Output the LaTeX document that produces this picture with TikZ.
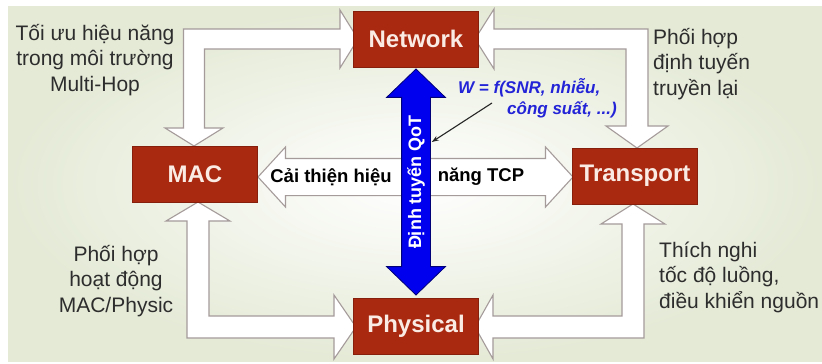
\documentclass[tikz,border=0pt]{standalone}
\usepackage{fontspec}
\setmainfont{Liberation Sans}
\usetikzlibrary{shapes.arrows,calc,arrows.meta}
\definecolor{boxred}{RGB}{168,40,16}
\definecolor{boxtext}{RGB}{250,236,228}
\definecolor{bgedge}{RGB}{228,234,214}
\definecolor{hollowline}{RGB}{165,155,155}
\definecolor{labelgray}{RGB}{45,45,45}
\definecolor{qotblue}{RGB}{0,0,238}
\definecolor{qotedge}{RGB}{0,0,120}
\definecolor{formulablue}{RGB}{35,35,215}
\tikzset{
  layerbox/.style={draw=boxred!80!black, line width=0.6pt, fill=boxred,
    minimum width=125pt, minimum height=56pt, inner sep=0pt,
    text=boxtext, font=\fontsize{24}{28}\selectfont\bfseries},
  hollow/.style={draw=hollowline, line width=1.1pt, fill=white, line join=miter},
  sidelabel/.style={text=labelgray, font=\fontsize{21}{25.5}\selectfont, inner sep=0pt},
  midlabel/.style={text=black, font=\fontsize{18.5}{22}\selectfont\bfseries, inner sep=0pt},
  formula/.style={text=formulablue, font=\fontsize{17}{20}\selectfont\bfseries\itshape, inner sep=0pt}
}
\begin{document}
\begin{tikzpicture}[x=1pt,y=-1pt]
% page and soft background
\fill[white] (0,0) rectangle (822,364);
\shade[inner color=white, outer color=bgedge] (8,6) rectangle (822,361);
\useasboundingbox (0,0) rectangle (822,364);

% bent two-way block arrows between neighbouring layers
\draw[hollow] (194,146) -- (223,128) -- (204.5,128) -- (204.5,49) -- (340,49) -- (340,68)
  -- (358,39) -- (340,10) -- (340,29) -- (183.5,29) -- (183.5,128) -- (165,128) -- cycle;
\draw[hollow] (475,39) -- (494,9) -- (494,29) -- (648,29) -- (648,126) -- (668,126)
  -- (637,148) -- (606,126) -- (626,126) -- (626,49) -- (494,49) -- (494,69) -- cycle;
\draw[hollow] (198,202) -- (230,221) -- (209,221) -- (209,316) -- (334,316) -- (334,295)
  -- (356,327) -- (334,359) -- (334,338) -- (187,338) -- (187,221) -- (166,221) -- cycle;
\draw[hollow] (633,204) -- (665,224) -- (644,224) -- (644,338) -- (493,338) -- (493,359)
  -- (475,327) -- (493,295) -- (493,316) -- (622,316) -- (622,224) -- (601,224) -- cycle;

% straight two-way arrow MAC <-> Transport
\node[hollow, double arrow, minimum height=315pt, text height=0pt, text depth=0pt,
  inner xsep=0pt, inner ysep=18pt, double arrow head extend=11.5pt,
  double arrow tip angle=95] (tcp) at (415.5,177) {};

% protocol layers
\node[layerbox] (net) at (416,39) {Network};
\node[layerbox] (mac) at (195,174) {MAC};
\node[layerbox] (tra) at (635,176) {Transport};
\node[layerbox] (phy) at (416,326) {Physical};

% descriptions
\node[sidelabel, align=center] (l1) at (95,60) {Tối ưu hiệu năng\\trong môi trường\\Multi-Hop};
\node[sidelabel, align=left, anchor=west] (l2) at (653,64) {Phối hợp\\định tuyến\\truyền lại};
\node[sidelabel, align=center] (l3) at (116,281) {Phối hợp\\hoạt động\\MAC/Physic};
\node[sidelabel, align=left, anchor=west] (l4) at (659,277) {Thích nghi\\tốc độ luồng,\\điều khiển nguồn};

\node[midlabel] (c1) at (331,177) {Cải thiện hiệu};
\node[midlabel] (c2) at (481,177) {năng TCP};

% QoT routing arrow Network <-> Physical
\node[double arrow, rotate=90, draw=qotedge, line width=0.8pt, fill=qotblue,
  minimum height=226pt, text height=16pt, text depth=6pt, inner xsep=0pt, inner ysep=3pt,
  double arrow head extend=15pt, double arrow tip angle=92,
  text=white, font=\fontsize{18}{20}\selectfont\bfseries] (qot) at (416,182) {Định tuyến QoT};

% routing weight
\node[formula, anchor=west] (w1) at (458,88) {W = f(SNR, nhiễu,};
\node[formula, anchor=west] (w2) at (507,110) {công suất, ...)};
\coordinate (wtail) at (492,103);
\draw[-{Stealth[length=7pt,width=5pt]}, line width=1.1pt, black!85] (wtail) -- ($(qot.south)+(1,-40)$);
\end{tikzpicture}
\end{document}
